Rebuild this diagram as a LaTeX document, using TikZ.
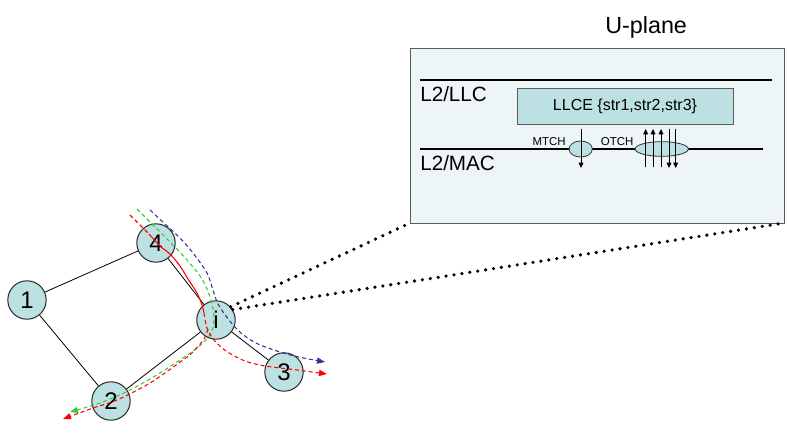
\documentclass[tikz,border=0pt]{standalone}
\usepackage{fontspec}
\setmainfont{Liberation Sans}
\usetikzlibrary{arrows.meta,shapes.geometric}

\definecolor{nodefill}{RGB}{189,224,227}
\definecolor{panelfill}{RGB}{238,245,247}
\definecolor{panelline}{RGB}{90,90,90}
\definecolor{pathred}{RGB}{255,0,0}
\definecolor{pathgreen}{RGB}{51,204,51}
\definecolor{pathblue}{RGB}{51,51,153}

\begin{document}
\begin{tikzpicture}[x=0.75pt,y=-0.75pt,
  netnode/.style={circle, draw=black!85, fill=nodefill, line width=0.75pt,
    minimum size=28.8pt, inner sep=0pt, font=\fontsize{18}{18}\selectfont},
  link/.style={draw=black, line width=0.6pt},
  route/.style={line width=0.8pt, dash pattern=on 3pt off 2.2pt},
  routeend/.style={route, -{Triangle[length=6pt,width=4.6pt]}},
  dotlink/.style={line width=2.7pt, line cap=round, dash pattern=on 0pt off 6pt},
  panelbox/.style={draw=panelline, fill=panelfill, line width=0.75pt},
  layerline/.style={draw=black, line width=2pt},
  layerlabel/.style={anchor=base west, inner sep=0pt, font=\fontsize{15.5}{15.5}\selectfont},
  chanlabel/.style={inner sep=0pt, font=\fontsize{8.6}{8.6}\selectfont},
  chan/.style={ellipse, draw=black!80, fill=nodefill, line width=0.6pt, inner sep=0pt},
  chanarrow/.style={draw=black, line width=0.6pt, -{Triangle[length=4pt,width=3.6pt]}},
  entity/.style={draw=panelline, fill=nodefill, line width=0.6pt,
    minimum width=162pt, minimum height=27pt, inner sep=0pt,
    font=\fontsize{12}{12}\selectfont}
]
\useasboundingbox (0,0) rectangle (785,421);

% ---------- U-plane panel ----------
\node[anchor=base west, inner sep=0pt, font=\fontsize{17.5}{17.5}\selectfont]
  (uplane) at (605,33.3) {U-plane};
\path[panelbox] (410,48) rectangle (784,223);
\coordinate (panelSW) at (410,223);
\coordinate (panelSE) at (784,223);

\draw[layerline] (420,80) -- (772,80);
\draw[layerline] (420,149) -- (763,149);
\node[layerlabel] (llc) at (420,101.7) {L2/LLC};
\node[layerlabel] (mac) at (420,170.7) {L2/MAC};

\node[entity] (llce) at (625,106) {LLCE \{str1,str2,str3\}};

\node[chan, minimum width=17.5pt, minimum height=12pt] (mtch) at (580.7,149) {};
\node[chan, minimum width=40pt, minimum height=11pt] (otch) at (661.7,149) {};
\node[chanlabel, anchor=base east] (mtchlbl) at (566,145.7) {MTCH};
\node[chanlabel, anchor=base west] (otchlbl) at (600.7,145.7) {OTCH};

% logical channel arrows
\draw[chanarrow] (581,129) -- (581,168);
\draw[chanarrow] (645.7,167) -- (645.7,129);
\draw[chanarrow] (653,167) -- (653,129);
\draw[chanarrow] (661,167) -- (661,129);
\draw[chanarrow] (669,129) -- (669,168);
\draw[chanarrow] (675.7,129) -- (675.7,168);

% ---------- network ----------
\node[netnode] (n1) at (27,300) {1};
\node[netnode] (n4) at (156,243) {4};
\node[netnode] (ni) at (216,320) {i};
\node[netnode] (n3) at (284,372) {3};
\node[netnode] (n2) at (111,401) {2};

\draw[link] (n1) -- (n4);
\draw[link] (n1) -- (n2);
\draw[link] (n4) -- (ni);
\draw[link] (ni) -- (n3);
\draw[link] (n2) -- (ni);

% zoom lines from node i to the panel
\draw[dotlink] (ni.42) -- (panelSW);
\draw[dotlink] (ni.32) -- (panelSE);

% ---------- routes ----------
% blue: over 4 and i towards 3
\draw[routeend, pathblue] plot[smooth] coordinates {
  (150,210) (165,224) (180,238) (193,253) (207,273) (213,290) (218,304)
  (229,320) (241,333) (258,344) (290,355) (325,362)};
% green: over 4 and i towards 2
\draw[routeend, pathgreen] plot[smooth] coordinates {
  (137,209) (153,225) (170,242) (187,260) (202,279) (211,300) (214,318)
  (211,333) (197,348) (160,373) (130,390) (100,403) (70,412)};
% red: over 4 and i, then towards 3 and towards 2
\draw[route, pathred] (130,215) -- (149,234);
\draw[pathred, line width=0.8pt] plot[smooth] coordinates {
  (149,234) (160,246) (170,254) (180,266) (188,279) (197,293) (202,305) (204,313)};
\draw[routeend, pathred] plot[smooth] coordinates {
  (204,313) (207,328) (214,340) (226,351) (245,361) (265,366) (297,370) (327,374)};
\draw[routeend, pathred] plot[smooth] coordinates {
  (208,329) (204,339) (193,352) (183,360) (150,383) (117,400) (93,408) (63,419)};
\end{tikzpicture}
\end{document}
